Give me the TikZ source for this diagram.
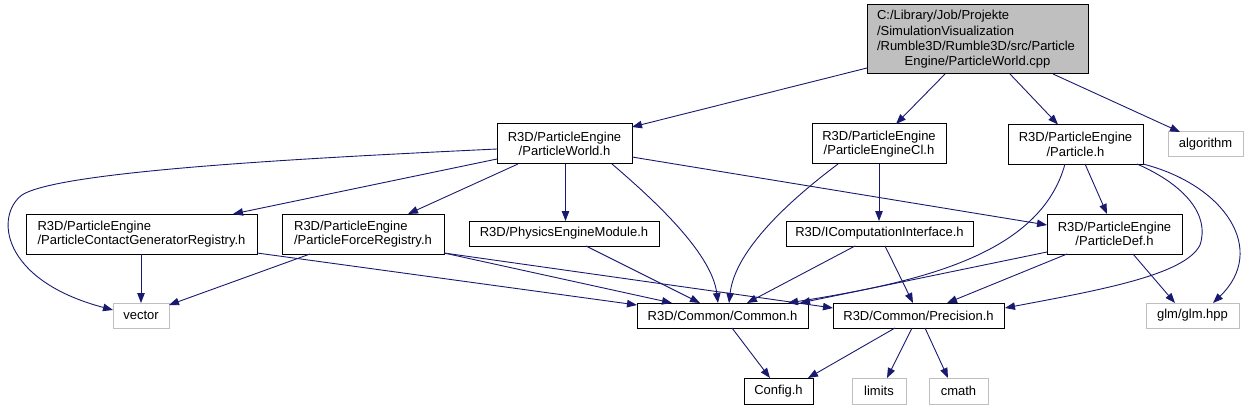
\documentclass[tikz,border=0pt]{standalone}
\usepackage{fontspec}
\setmainfont{Liberation Sans}
\usetikzlibrary{arrows.meta,calc}
\definecolor{edgec}{HTML}{191970}
\definecolor{grayb}{HTML}{BFBFBF}
\definecolor{rootfill}{HTML}{BFBFBF}
\begin{document}
\begin{tikzpicture}[x=1pt,y=-1pt,
  box/.style={draw=black, line width=1pt, fill=white, inner sep=0pt, text=black,
              font=\fontsize{13}{14.6}\selectfont, align=center},
  ext/.style={box, draw=grayb},
  e/.style={draw=edgec, line width=0.9pt, -{Triangle[length=10pt,width=7.5pt]}}]
\useasboundingbox (0,0) rectangle (1251,409);

% nodes
\node[box, fill=rootfill, minimum width=221pt, minimum height=69pt, text width=201pt, align=left,
      font=\fontsize{13}{15.3}\selectfont] (root) at (977.5,39.5)
  {C:/Library/Job/Projekte\\/SimulationVisualization\\/Rumble3D/Rumble3D/src/Particle\par\centering Engine/ParticleWorld.cpp\par};
\node[box, minimum width=135pt, minimum height=40pt] (pw) at (564.5,144) {R3D/ParticleEngine\\/ParticleWorld.h};
\node[box, minimum width=134pt, minimum height=40pt] (pecl) at (879,144) {R3D/ParticleEngine\\/ParticleEngineCl.h};
\node[box, minimum width=135pt, minimum height=40pt] (part) at (1075.5,144.5) {R3D/ParticleEngine\\/Particle.h};
\node[ext, minimum width=75pt, minimum height=25pt] (algo) at (1205.5,144.5) {algorithm};
\node[box, minimum width=231pt, minimum height=40pt, align=left] (pcgr) at (141.5,234) {R3D/ParticleEngine\\/ParticleContactGeneratorRegistry.h};
\node[box, minimum width=162pt, minimum height=40pt, align=left] (pfr) at (363,234) {R3D/ParticleEngine\\/ParticleForceRegistry.h};
\node[box, minimum width=190pt, minimum height=25pt] (pem) at (564,233.5) {R3D/PhysicsEngineModule.h};
\node[box, minimum width=187pt, minimum height=25pt] (ici) at (879.5,233.5) {R3D/IComputationInterface.h};
\node[box, minimum width=135pt, minimum height=40pt] (pdef) at (1114.5,234) {R3D/ParticleEngine\\/ParticleDef.h};
\node[ext, minimum width=56pt, minimum height=25pt] (vector) at (141,315.5) {vector};
\node[box, minimum width=171pt, minimum height=25pt] (common) at (722.5,315.5) {R3D/Common/Common.h};
\node[box, minimum width=171pt, minimum height=25pt] (prec) at (918.5,315.5) {R3D/Common/Precision.h};
\node[ext, minimum width=93pt, minimum height=25pt] (glm) at (1192.5,315.5) {glm/glm.hpp};
\node[box, minimum width=69pt, minimum height=26pt] (config) at (778.5,391) {Config.h};
\node[ext, minimum width=54pt, minimum height=26pt] (limits) at (879,391) {limits};
\node[ext, minimum width=59pt, minimum height=26pt] (cmath) at (958.5,391) {cmath};

% edges from root
\draw[e] ($(root)+(-110.5,28.5)$) -- ($(pw)+(67.5,-17)$);
\draw[e] ($(root)+(-32.5,34.5)$) -- ($(pecl)+(17,-20)$);
\draw[e] ($(root)+(32.5,34.5)$) -- ($(part)+(-17.5,-20)$);
\draw[e] ($(root)+(75.5,34.5)$) -- ($(algo)+(-25.5,-12.5)$);

% edges from ParticleWorld.h
\draw[e] ($(pw)+(-67.5,5)$) .. controls (330,157) and (60,170) .. (22,195)
         .. controls (-5,215) and (0,280) .. ($(vector)+(-28,-5.5)$);
\draw[e] ($(pw)+(-67.5,15)$) -- ($(pcgr)+(91.5,-20)$);
\draw[e] ($(pw)+(-46.5,20)$) -- ($(pfr)+(45,-20)$);
\draw[e] ($(pw)+(1,20)$) -- ($(pem)+(1.5,-12.5)$);
\draw[e] ($(pw)+(47.5,20)$) .. controls (660,205) and (712,255) .. ($(common)+(-4.5,-12.5)$);
\draw[e] ($(pw)+(67.5,13)$) -- ($(pdef)+(-67.5,-9)$);

% edges from ParticleEngineCl.h
\draw[e] ($(pecl)+(-41,20)$) .. controls (790,200) and (735,250) .. ($(common)+(6.5,-12.5)$);
\draw[e] ($(pecl)+(0,20)$) -- ($(ici)+(-0.5,-12.5)$);

% edges from Particle.h
\draw[e] ($(part)+(-10.5,19.5)$) .. controls (1040,255) and (920,282) .. ($(common)+(65.5,-12.5)$);
\draw[e] ($(part)+(9.5,19.5)$) -- ($(pdef)+(-7.5,-20)$);
\draw[e] ($(part)+(61.5,19.5)$) .. controls (1185,185) and (1210,215) .. (1200,245)
         .. controls (1185,275) and (1100,290) .. ($(prec)+(86.5,-7.5)$);
\draw[e] ($(part)+(67.5,19.5)$) .. controls (1225,185) and (1268,250) .. ($(glm)+(20.5,-12.5)$);

% edges from registries
\draw[e] ($(pcgr)+(-0.5,20)$) -- ($(vector)+(0,-12.5)$);
\draw[e] ($(pcgr)+(115.5,19)$) -- ($(common)+(-85.5,-10.5)$);
\draw[e] ($(pfr)+(-53,20)$) -- ($(vector)+(28,-10.5)$);
\draw[e] ($(pfr)+(81,19)$) -- ($(common)+(-50.5,-12.5)$);
\draw[e] ($(pfr)+(81,19)$) -- ($(prec)+(-85.5,-7.5)$);

% PhysicsEngineModule, IComputationInterface
\draw[e] ($(pem)+(22,12.5)$) -- ($(common)+(-22.5,-12.5)$);
\draw[e] ($(ici)+(-24.5,12.5)$) -- ($(common)+(24.5,-12.5)$);
\draw[e] ($(ici)+(5.5,12.5)$) -- ($(prec)+(-5.5,-12.5)$);

% ParticleDef.h
\draw[e] ($(pdef)+(-67.5,18)$) -- ($(common)+(77.5,-12.5)$);
\draw[e] ($(pdef)+(-47.5,20)$) -- ($(prec)+(28.5,-12.5)$);
\draw[e] ($(pdef)+(18.5,20)$) -- ($(glm)+(-17.5,-12.5)$);

% bottom row
\draw[e] ($(common)+(9.5,12.5)$) -- ($(config)+(-8.5,-13)$);
\draw[e] ($(prec)+(-23.5,12.5)$) -- ($(config)+(29.5,-13)$);
\draw[e] ($(prec)+(-6.5,12.5)$) -- ($(limits)+(8,-13)$);
\draw[e] ($(prec)+(6.5,12.5)$) -- ($(cmath)+(-10.5,-13)$);
\end{tikzpicture}
\end{document}
